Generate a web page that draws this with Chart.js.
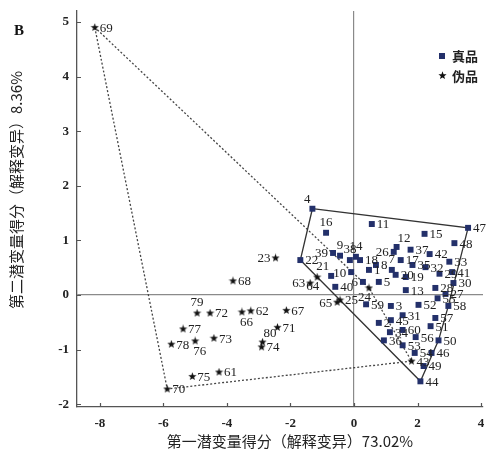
<!DOCTYPE html>
<html><head><meta charset="utf-8">
<script src="https://cdn.jsdelivr.net/npm/chart.js@4.4.1/dist/chart.umd.min.js"></script>
<style>html,body{margin:0;padding:0;background:#fff}#wrap{width:488px;height:464px;position:relative}</style>
</head><body><div id="wrap"><canvas id="c" width="488" height="464"></canvas></div>
<script>
// ---- data ----
const xTicks = [-8, -6, -4, -2, 0, 2, 4];
const yTicks = [-2, -1, 0, 1, 2, 3, 4, 5];
const seriesNames = ['真品', '伪品'];
const genuineIds = [1,2,3,4,5,6,7,8,9,10,11,12,13,14,15,16,17,18,19,20,21,22,
  26,27,28,29,30,31,32,33,34,35,36,37,38,39,40,41,42,44,45,46,47,48,49,50,51,52,53,54,55,56,57,58,59,60];
const genuineX = [0.47,0.78,1.16,-1.31,0.78,0.28,1.19,0.69,-0.44,-0.09,0.56,1.34,1.63,0.06,2.22,-0.88,1.47,0.19,1.63,1.31,-0.72,-1.69,
  1.25,2.88,2.56,2.69,3.13,1.53,2.25,3.00,1.13,1.84,0.94,1.78,-0.13,-0.66,-0.59,3.09,2.38,2.09,1.16,2.44,3.59,3.16,2.19,2.66,2.41,2.03,1.53,1.91,2.63,1.94,2.56,2.97,0.38,1.53];
const genuineY = [0.46,-0.51,-0.20,1.58,0.24,0.24,0.46,0.55,0.72,0.42,1.30,0.88,0.09,0.70,1.12,1.14,0.64,0.64,0.33,0.37,0.35,0.64,
  0.79,0.02,0.13,0.39,0.22,-0.37,0.51,0.61,-0.68,0.55,-0.83,0.83,0.64,0.77,0.15,0.42,0.75,-1.58,-0.46,-1.06,1.23,0.95,-1.30,-0.83,-0.57,-0.18,-0.92,-1.06,-0.06,-0.77,-0.42,-0.20,-0.17,-0.64];
const fakeIds = [23,24,25,43,61,62,63,64,65,66,67,68,69,70,71,72,73,74,75,76,77,78,79,80];
const fakeX = [-2.47,0.47,-0.44,1.81,-4.25,-3.25,-1.38,-1.16,-0.53,-3.53,-2.13,-3.81,-8.16,-5.88,-2.41,-4.53,-4.41,-2.91,-5.09,-5.00,-5.38,-5.75,-4.94,-2.88];
const fakeY = [0.68,0.13,-0.09,-1.21,-1.41,-0.29,0.22,0.33,-0.13,-0.31,-0.28,0.26,4.90,-1.72,-0.59,-0.33,-0.79,-0.95,-1.49,-0.84,-0.62,-0.90,-0.33,-0.86];
const genuineHull = [4, 47, 58, 50, 44, 22, 4];
const fakeHull = [69, 70, 43, 24, 69];

// ---- styling (not data) ----
const labelPos = {4:'nw',16:'n',12:'ne',9:'n',38:'n',14:'n',39:'w',21:'nw',10:'w',6:'w',26:'w',7:'n',
  23:'w',63:'w',64:'sw',66:'s',79:'n',80:'ne',24:'sw',65:'w',76:'s'};
const NAVY = '#23306a';

function makeStar(){
  const c = document.createElement('canvas'); c.width = 9; c.height = 9;
  const g = c.getContext('2d'); g.fillStyle = '#111'; g.beginPath();
  for (let i = 0; i < 10; i++) {
    const r = i % 2 ? 1.8 : 4.3, a = -Math.PI/2 + i*Math.PI/5;
    g.lineTo(4.5 + r*Math.cos(a), 4.6 + r*Math.sin(a));
  }
  g.closePath(); g.fill(); return c;
}
const starImg = makeStar();

const pts = (xs, ys) => xs.map((x, i) => ({x, y: ys[i]}));
const lookup = {};
genuineIds.forEach((id,i)=>lookup[id]={x:genuineX[i],y:genuineY[i]});
fakeIds.forEach((id,i)=>lookup[id]={x:fakeX[i],y:fakeY[i]});
const hullPts = h => h.map(id => lookup[id]);

const labelPlugin = {
  id: 'pointLabels',
  afterDatasetsDraw(chart){
    const ctx = chart.ctx; ctx.save();
    ctx.font = '13px "Liberation Serif", "DejaVu Serif", serif'; ctx.fillStyle = '#222';
    chart.data.datasets.forEach((ds, di) => {
      if (!ds.ids) return;
      chart.getDatasetMeta(di).data.forEach((el, i) => {
        const t = String(ds.ids[i]); const p = labelPos[ds.ids[i]] || 'e';
        let x = el.x, y = el.y;
        if (p === 'e') { ctx.textAlign='left'; ctx.textBaseline='middle'; x += 5; y += 1; }
        else if (p === 'w') { ctx.textAlign='right'; ctx.textBaseline='middle'; x -= 5; y += 1; }
        else if (p === 'n') { ctx.textAlign='center'; ctx.textBaseline='bottom'; y -= 4; }
        else if (p === 's') { ctx.textAlign='left'; ctx.textBaseline='top'; y += 4; x -= 2; }
        else if (p === 'nw') { ctx.textAlign='right'; ctx.textBaseline='bottom'; x -= 2; y -= 3; }
        else if (p === 'ne') { ctx.textAlign='left'; ctx.textBaseline='bottom'; x += 1; y -= 2; }
        else if (p === 'sw') { ctx.textAlign='right'; ctx.textBaseline='top'; x += 2; y += 3; }
        ctx.fillText(t, x, y);
      });
    });
    ctx.restore();
  }
};

const decoPlugin = {
  id: 'deco',
  afterDraw(chart){
    const ctx = chart.ctx, xs = chart.scales.x, ys = chart.scales.y, a = chart.chartArea;
    ctx.save();
    // inward tick marks
    ctx.strokeStyle = '#555'; ctx.lineWidth = 1.2; ctx.beginPath();
    xTicks.forEach(v => { const px = Math.round(xs.getPixelForValue(v)) + 0.5; ctx.moveTo(px, a.bottom); ctx.lineTo(px, a.bottom - 4); });
    yTicks.forEach(v => { const py = Math.round(ys.getPixelForValue(v)) + 0.5; ctx.moveTo(a.left, py); ctx.lineTo(a.left + 4, py); });
    ctx.stroke();
    // panel letter
    ctx.fillStyle = '#111'; ctx.font = 'bold 15px "Liberation Serif", serif';
    ctx.textAlign = 'left'; ctx.textBaseline = 'middle'; ctx.fillText('B', 14, 31);
    // axis titles
    ctx.font = '15px "Noto Sans CJK SC", sans-serif'; ctx.fillStyle = '#222';
    ctx.textAlign = 'center'; ctx.textBaseline = 'middle';
    ctx.fillText('第一潜变量得分（解释变异）73.02%', 290, 441);
    ctx.save(); ctx.translate(16, 190); ctx.rotate(-Math.PI/2);
    ctx.fillText('第二潜变量得分（解释变异）8.36%', 0, 0); ctx.restore();
    // legend
    const ly = [56, 76];
    chart.data.datasets.forEach((ds, di) => {
      if (!ds.ids) return;
      const y = ly[di];
      if (ds.pointStyle === 'rect') { ctx.fillStyle = NAVY; ctx.fillRect(439, y - 3, 6, 6); }
      else ctx.drawImage(starImg, 438, y - 5);
      ctx.fillStyle = '#222'; ctx.font = 'bold 13px "Noto Sans CJK SC", sans-serif';
      ctx.textAlign = 'left'; ctx.fillText(ds.label, 452, y);
    });
    ctx.restore();
  }
};

new Chart(document.getElementById('c'), {
  type: 'scatter',
  data: { datasets: [
    { label: seriesNames[0], ids: genuineIds, data: pts(genuineX, genuineY), pointStyle: 'rect', pointRadius: 4.2,
      backgroundColor: NAVY, borderColor: NAVY, borderWidth: 0, order: 1 },
    { label: seriesNames[1], ids: fakeIds, data: pts(fakeX, fakeY), pointStyle: starImg, pointRadius: 4,
      backgroundColor: '#111', borderColor: '#111', order: 2 },
    { label: 'hullG', data: hullPts(genuineHull), showLine: true, pointRadius: 0, borderColor: '#333',
      borderWidth: 1.3, fill: false, order: 3 },
    { label: 'hullF', data: hullPts(fakeHull), showLine: true, pointRadius: 0, borderColor: '#444',
      borderWidth: 1.3, borderDash: [2, 2], fill: false, order: 4 }
  ]},
  options: {
    responsive: false, animation: false, events: [],
    layout: { padding: { top: 11, left: 0, right: 2, bottom: 0 } },
    plugins: { legend: { display: false }, tooltip: { enabled: false } },
    scales: {
      x: { type: 'linear', min: -8.72, max: 4.06,
        afterBuildTicks: s => { s.ticks = xTicks.map(v => ({ value: v })); },
        afterFit: s => { s.height = 57; s.paddingLeft = 0; s.paddingRight = 0; },
        grid: { drawTicks: false, lineWidth: 1.2, color: c => (c.tick && c.tick.value === 0) ? '#8a8a8a' : 'rgba(0,0,0,0)' },
        border: { display: true, color: '#555', width: 1.3 },
        ticks: { color: '#222', padding: 9, font: { family: '"Liberation Serif", serif', size: 13, weight: 'bold' },
          callback: v => String(v) } },
      y: { type: 'linear', min: -2.05, max: 5.2,
        afterBuildTicks: s => { s.ticks = yTicks.map(v => ({ value: v })); },
        afterFit: s => { s.width = 77; s.paddingTop = 0; s.paddingBottom = 0; },
        grid: { drawTicks: false, lineWidth: 1.2, color: c => (c.tick && c.tick.value === 0) ? '#8a8a8a' : 'rgba(0,0,0,0)' },
        border: { display: true, color: '#555', width: 1.3 },
        ticks: { color: '#222', padding: 8, font: { family: '"Liberation Serif", serif', size: 13, weight: 'bold' },
          callback: v => String(v) } }
    }
  },
  plugins: [labelPlugin, decoPlugin]
});
</script></body></html>
